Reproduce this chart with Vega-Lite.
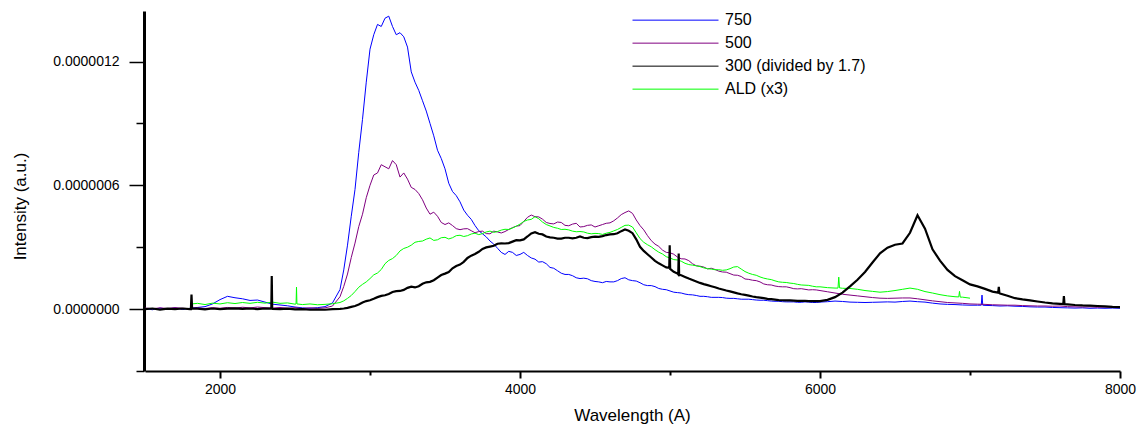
{
"$schema": "https://vega.github.io/schema/vega-lite/v6.json",
"width": 975, "height": 360,
"autosize": {"type": "none"},
"padding": {"left": 145, "top": 11, "right": 19, "bottom": 58},
"background": "white",
"config": {"view": {"stroke": null}, "font": "Liberation Sans"},
"data": {"values": [
{"w":1500,"b":0.2e-8,"p":0.5e-8,"k":0},
{"w":1550,"b":-0.3e-8,"p":0.2e-8,"k":0.3e-8},
{"w":1600,"b":0.5e-8,"p":0.6e-8,"k":-0.2e-8},
{"w":1650,"b":0,"p":0.3e-8,"k":0.2e-8},
{"w":1700,"b":0.6e-8,"p":0.7e-8,"k":0},
{"w":1750,"b":-0.2e-8,"p":0.4e-8,"k":0.3e-8},
{"w":1800,"b":0.4e-8,"p":0.2e-8,"k":0,"g":2.4e-8},
{"w":1806,"k":0},
{"w":1810,"k":7e-8},
{"w":1814,"k":0.2e-8},
{"w":1850,"b":0.8e-8,"p":0.6e-8,"k":0.2e-8,"g":2.8e-8},
{"w":1900,"b":1.2e-8,"p":0.3e-8,"k":-0.1e-8,"g":2.2e-8},
{"w":1950,"b":2.5e-8,"p":0.7e-8,"k":0.3e-8,"g":2.9e-8},
{"w":2000,"b":4.6e-8,"p":0.4e-8,"k":0,"g":2.5e-8},
{"w":2050,"b":6.2e-8,"p":0.8e-8,"k":0.2e-8,"g":3.1e-8},
{"w":2100,"b":5.5e-8,"p":0.5e-8,"k":0.4e-8,"g":2.7e-8},
{"w":2150,"b":5.0e-8,"p":0.9e-8,"k":0.1e-8,"g":3.2e-8},
{"w":2200,"b":4.2e-8,"p":0.6e-8,"k":0.3e-8,"g":2.8e-8},
{"w":2250,"b":4.4e-8,"p":1.0e-8,"k":0,"g":3.3e-8},
{"w":2300,"b":3.4e-8,"p":0.7e-8,"k":0.3e-8,"g":2.9e-8},
{"w":2342,"k":0.2e-8},
{"w":2345,"k":16e-8},
{"w":2348,"k":0.2e-8},
{"w":2350,"b":2.4e-8,"p":0.5e-8,"k":0.1e-8,"g":3.4e-8},
{"w":2400,"b":2.0e-8,"p":0.8e-8,"k":0,"g":2.8e-8},
{"w":2450,"b":1.6e-8,"p":0.4e-8,"k":0.2e-8,"g":3.0e-8},
{"w":2500,"b":1.0e-8,"p":0.7e-8,"k":-0.1e-8,"g":2.4e-8},
{"w":2507,"g":2.5e-8},
{"w":2510,"g":10.7e-8},
{"w":2513,"g":2.5e-8},
{"w":2550,"b":0.6e-8,"p":0.3e-8,"k":0,"g":2.2e-8},
{"w":2600,"b":0.4e-8,"p":0.6e-8,"k":-0.3e-8,"g":2.5e-8},
{"w":2650,"b":0.7e-8,"p":0.4e-8,"k":-0.2e-8,"g":2.1e-8},
{"w":2700,"b":1.2e-8,"p":0.6e-8,"k":-0.3e-8,"g":2.3e-8},
{"w":2750,"b":3.0e-8,"p":1.5e-8,"k":0,"g":2.6e-8},
{"w":2800,"b":9.5e-8,"p":6e-8,"k":0.1e-8,"g":3.2e-8},
{"w":2825,"b":19e-8,"p":11e-8,"k":0.3e-8,"g":4.0e-8},
{"w":2850,"b":31e-8,"p":17e-8,"k":0.6e-8,"g":5.2e-8},
{"w":2875,"b":45e-8,"p":25e-8,"k":1.1e-8,"g":6.6e-8},
{"w":2900,"b":58e-8,"p":32e-8,"k":1.5e-8,"g":8.5e-8},
{"w":2925,"b":76e-8,"p":40e-8,"k":2.2e-8,"g":10.6e-8},
{"w":2950,"b":92e-8,"p":46e-8,"k":3.2e-8,"g":12e-8},
{"w":2975,"b":110e-8,"p":54e-8,"k":3.9e-8,"g":13.2e-8},
{"w":3000,"b":126e-8,"p":60e-8,"k":4.3e-8,"g":14.8e-8},
{"w":3025,"b":133e-8,"p":65e-8,"k":5.0e-8,"g":16.6e-8},
{"w":3050,"b":138e-8,"p":66e-8,"k":5.8e-8,"g":17.5e-8},
{"w":3075,"b":137e-8,"p":70e-8,"k":6.4e-8,"g":19.2e-8},
{"w":3100,"b":141e-8,"p":69e-8,"k":6.7e-8,"g":22e-8},
{"w":3125,"b":142e-8,"p":68e-8,"k":7.3e-8,"g":23.6e-8},
{"w":3150,"b":137e-8,"p":72e-8,"k":8.3e-8,"g":24.5e-8},
{"w":3175,"b":133e-8,"p":70e-8,"k":8.7e-8,"g":26.0e-8},
{"w":3200,"b":134e-8,"p":64e-8,"k":8.8e-8,"g":28.2e-8},
{"w":3225,"b":132e-8,"p":66e-8,"k":9.3e-8,"g":29.4e-8},
{"w":3250,"b":127e-8,"p":63e-8,"k":10.3e-8,"g":30e-8},
{"w":3275,"b":115e-8,"p":59e-8,"k":10.9e-8,"g":31.0e-8},
{"w":3300,"b":110e-8,"p":58e-8,"k":10.5e-8,"g":32.4e-8},
{"w":3325,"b":106e-8,"p":56e-8,"k":11.1e-8,"g":32.8e-8},
{"w":3350,"b":101e-8,"p":53e-8,"k":12.3e-8,"g":33e-8},
{"w":3375,"b":96e-8,"p":49e-8,"k":13.0e-8,"g":33.9e-8},
{"w":3400,"b":90e-8,"p":46e-8,"k":13.2e-8,"g":34.5e-8},
{"w":3425,"b":84e-8,"p":47e-8,"k":14.0e-8,"g":33.3e-8},
{"w":3450,"b":77e-8,"p":45e-8,"k":15.3e-8,"g":33.6e-8},
{"w":3475,"b":73e-8,"p":42e-8,"k":16.5e-8,"g":34.6e-8},
{"w":3500,"b":68e-8,"p":41e-8,"k":17.2e-8,"g":34.8e-8},
{"w":3525,"b":61e-8,"p":41.8e-8,"k":18.0e-8,"g":34.0e-8},
{"w":3550,"b":57e-8,"p":40.5e-8,"k":19.8e-8,"g":34.6e-8},
{"w":3575,"b":55e-8,"p":39e-8,"k":20.9e-8,"g":35.6e-8},
{"w":3600,"b":52e-8,"p":38.5e-8,"k":21.6e-8,"g":35.8e-8},
{"w":3625,"b":48e-8,"p":38.9e-8,"k":22.9e-8,"g":35.2e-8},
{"w":3650,"b":45.5e-8,"p":39e-8,"k":24.8e-8,"g":35.6e-8},
{"w":3675,"b":43.5e-8,"p":38e-8,"k":25.9e-8,"g":36.4e-8},
{"w":3700,"b":40.5e-8,"p":37e-8,"k":26.7e-8,"g":36.8e-8},
{"w":3725,"b":38e-8,"p":37.6e-8,"k":27.8e-8,"g":36.1e-8},
{"w":3750,"b":36.5e-8,"p":37.8e-8,"k":29.2e-8,"g":36.6e-8},
{"w":3775,"b":35e-8,"p":36.6e-8,"k":29.9e-8,"g":37.4e-8},
{"w":3800,"b":33e-8,"p":36.5e-8,"k":30.3e-8,"g":37.8e-8},
{"w":3825,"b":31.5e-8,"p":37.8e-8,"k":30.7e-8,"g":37.2e-8},
{"w":3850,"b":29.5e-8,"p":37.4e-8,"k":31.7e-8,"g":37.6e-8},
{"w":3875,"b":27.5e-8,"p":36.9e-8,"k":31.9e-8,"g":38.3e-8},
{"w":3900,"b":26.5e-8,"p":37.6e-8,"k":31.8e-8,"g":38.7e-8},
{"w":3925,"b":28e-8,"p":38.6e-8,"k":32.0e-8,"g":38.6e-8},
{"w":3950,"b":27.5e-8,"p":39.5e-8,"k":32.7e-8,"g":39.3e-8},
{"w":3975,"b":26e-8,"p":40.2e-8,"k":33.4e-8,"g":40.2e-8},
{"w":4000,"b":26.5e-8,"p":40.5e-8,"k":33.3e-8,"g":41.2e-8},
{"w":4025,"b":27.5e-8,"p":42.5e-8,"k":33.8e-8,"g":42.5e-8},
{"w":4050,"b":26e-8,"p":44.5e-8,"k":35.2e-8,"g":43.2e-8},
{"w":4075,"b":24.8e-8,"p":45.6e-8,"k":36.7e-8,"g":43.5e-8},
{"w":4100,"b":24.2e-8,"p":44.8e-8,"k":37.3e-8,"g":44.8e-8},
{"w":4125,"b":22.8e-8,"p":44.7e-8,"k":36.5e-8,"g":43.8e-8},
{"w":4150,"b":23e-8,"p":43.6e-8,"k":36.2e-8,"g":42.2e-8},
{"w":4175,"b":22e-8,"p":42e-8,"k":35.2e-8,"g":41.0e-8},
{"w":4200,"b":20.2e-8,"p":41.5e-8,"k":34.8e-8,"g":40.3e-8},
{"w":4225,"b":19.8e-8,"p":41.3e-8,"k":34.6e-8,"g":39.6e-8},
{"w":4250,"b":18.6e-8,"p":42.2e-8,"k":34.2e-8,"g":39.2e-8},
{"w":4275,"b":17.4e-8,"p":42.0e-8,"k":34.2e-8,"g":38.6e-8},
{"w":4300,"b":16.8e-8,"p":40.6e-8,"k":34.6e-8,"g":38.7e-8},
{"w":4325,"b":16.8e-8,"p":40.4e-8,"k":34.6e-8,"g":38.4e-8},
{"w":4350,"b":16.2e-8,"p":41.2e-8,"k":34.3e-8,"g":37.8e-8},
{"w":4375,"b":15.2e-8,"p":41.6e-8,"k":34.6e-8,"g":37.5e-8},
{"w":4400,"b":14.8e-8,"p":39.8e-8,"k":35.2e-8,"g":37.6e-8},
{"w":4425,"b":15.0e-8,"p":40.0e-8,"k":34.6e-8,"g":37.4e-8},
{"w":4450,"b":14.7e-8,"p":40.6e-8,"k":34.4e-8,"g":36.8e-8},
{"w":4475,"b":13.8e-8,"p":40.8e-8,"k":34.9e-8,"g":36.5e-8},
{"w":4500,"b":13.4e-8,"p":39.8e-8,"k":35.1e-8,"g":36.7e-8},
{"w":4525,"b":13.2e-8,"p":40.4e-8,"k":35.0e-8,"g":36.6e-8},
{"w":4550,"b":12.8e-8,"p":41e-8,"k":35.4e-8,"g":36.2e-8},
{"w":4575,"b":13.4e-8,"p":41.6e-8,"k":35.9e-8,"g":36.8e-8},
{"w":4600,"b":13.2e-8,"p":41.8e-8,"k":36.2e-8,"g":37.2e-8},
{"w":4625,"b":13.2e-8,"p":42.8e-8,"k":36.3e-8,"g":37.9e-8},
{"w":4650,"b":13.8e-8,"p":44.2e-8,"k":36.8e-8,"g":38.6e-8},
{"w":4675,"b":14.8e-8,"p":45.8e-8,"k":37.8e-8,"g":39.6e-8},
{"w":4700,"b":15.2e-8,"p":46.8e-8,"k":38.6e-8,"g":40.6e-8},
{"w":4725,"b":14.2e-8,"p":47.6e-8,"k":38.0e-8,"g":40.7e-8},
{"w":4750,"b":13.8e-8,"p":46.4e-8,"k":36.8e-8,"g":39.8e-8},
{"w":4775,"b":13.6e-8,"p":43.2e-8,"k":33.8e-8,"g":37.0e-8},
{"w":4800,"b":12.8e-8,"p":40.5e-8,"k":30.2e-8,"g":34.2e-8},
{"w":4825,"b":11.8e-8,"p":38.4e-8,"k":28.2e-8,"g":32.4e-8},
{"w":4850,"b":11.4e-8,"p":35.6e-8,"k":26.6e-8,"g":31.2e-8},
{"w":4875,"b":11.4e-8,"p":33.2e-8,"k":25.0e-8,"g":30.2e-8},
{"w":4900,"b":10.9e-8,"p":31.5e-8,"k":23.4e-8,"g":28.8e-8},
{"w":4925,"b":10.0e-8,"p":30.4e-8,"k":22.2e-8,"g":27.6e-8},
{"w":4950,"b":9.6e-8,"p":28.6e-8,"k":21.2e-8,"g":26.7e-8},
{"w":4975,"b":9.4e-8,"p":27.5e-8,"k":20.2e-8,"g":25.4e-8},
{"w":4995,"k":20e-8},
{"w":4998,"k":31e-8},
{"w":5001,"k":19.5e-8},
{"w":5000,"b":8.8e-8,"p":27.3e-8,"g":24.8e-8},
{"w":5025,"b":8.2e-8,"p":26.6e-8,"k":18.1e-8,"g":24.0e-8},
{"w":5050,"b":8.0e-8,"p":25.2e-8,"k":17.2e-8,"g":23.8e-8},
{"w":5055,"k":16.8e-8},
{"w":5058,"k":27e-8},
{"w":5061,"k":16.6e-8},
{"w":5075,"b":7.8e-8,"p":24.4e-8,"k":16.4e-8,"g":23.2e-8},
{"w":5100,"b":7.3e-8,"p":24.3e-8,"k":15.6e-8,"g":22.2e-8},
{"w":5125,"b":7.0e-8,"p":23.5e-8,"k":14.8e-8,"g":21.6e-8},
{"w":5150,"b":6.9e-8,"p":22e-8,"k":14.1e-8,"g":21.3e-8},
{"w":5175,"b":6.6e-8,"p":21.0e-8,"k":13.4e-8,"g":21.0e-8},
{"w":5200,"b":6.2e-8,"p":20.8e-8,"k":12.7e-8,"g":20.6e-8},
{"w":5225,"b":6.2e-8,"p":20.4e-8,"k":12.1e-8,"g":20.0e-8},
{"w":5250,"b":6.0e-8,"p":19.5e-8,"k":11.6e-8,"g":19.6e-8},
{"w":5275,"b":5.7e-8,"p":19.8e-8,"k":11.1e-8,"g":19.4e-8},
{"w":5300,"b":5.7e-8,"p":19.2e-8,"k":10.6e-8,"g":19.1e-8},
{"w":5325,"b":5.7e-8,"p":18.4e-8,"k":10.0e-8,"g":19.1e-8},
{"w":5350,"b":5.6e-8,"p":18.0e-8,"k":9.5e-8,"g":18.8e-8},
{"w":5375,"b":5.3e-8,"p":17.9e-8,"k":9.0e-8,"g":19.0e-8},
{"w":5400,"b":5.2e-8,"p":17.2e-8,"k":8.6e-8,"g":19.6e-8},
{"w":5425,"b":5.2e-8,"p":16.5e-8,"k":8.1e-8,"g":20.4e-8},
{"w":5450,"b":5.0e-8,"p":16.4e-8,"k":7.6e-8,"g":20.6e-8},
{"w":5475,"b":4.8e-8,"p":15.8e-8,"k":7.2e-8,"g":19.4e-8},
{"w":5500,"b":4.8e-8,"p":14.6e-8,"k":6.9e-8,"g":18.2e-8},
{"w":5525,"b":4.8e-8,"p":14.4e-8,"k":6.5e-8,"g":17.4e-8},
{"w":5550,"b":4.6e-8,"p":14.0e-8,"k":6.1e-8,"g":16.8e-8},
{"w":5575,"b":4.4e-8,"p":13.8e-8,"k":5.8e-8,"g":16.4e-8},
{"w":5600,"b":4.3e-8,"p":13.2e-8,"k":5.6e-8,"g":15.6e-8},
{"w":5625,"b":4.3e-8,"p":12.2e-8,"k":5.3e-8,"g":15.0e-8},
{"w":5650,"b":4.1e-8,"p":11.8e-8,"k":5.0e-8,"g":14.6e-8},
{"w":5675,"b":3.9e-8,"p":11.7e-8,"k":4.8e-8,"g":14.3e-8},
{"w":5700,"b":3.8e-8,"p":11.2e-8,"k":4.6e-8,"g":13.7e-8},
{"w":5725,"b":3.8e-8,"p":10.9e-8,"k":4.4e-8,"g":13.2e-8},
{"w":5750,"b":3.6e-8,"p":10.8e-8,"k":4.3e-8,"g":13.0e-8},
{"w":5775,"b":3.5e-8,"p":10.8e-8,"k":4.2e-8,"g":12.9e-8},
{"w":5800,"b":3.5e-8,"p":10.4e-8,"k":4.2e-8,"g":12.6e-8},
{"w":5825,"b":3.5e-8,"p":9.9e-8,"k":4.1e-8,"g":12.4e-8},
{"w":5850,"b":3.3e-8,"p":9.8e-8,"k":4.0e-8,"g":12.0e-8},
{"w":5875,"b":3.3e-8,"p":9.9e-8,"k":4.0e-8,"g":11.7e-8},
{"w":5900,"b":3.5e-8,"p":9.6e-8,"k":4.0e-8,"g":11.6e-8},
{"w":5925,"b":3.4e-8,"p":9.3e-8,"k":3.9e-8,"g":11.5e-8},
{"w":5950,"b":3.2e-8,"p":9.4e-8,"k":3.9e-8,"g":11.1e-8},
{"w":5975,"b":3.2e-8,"p":9.3e-8,"k":3.9e-8,"g":10.8e-8},
{"w":6000,"b":3.4e-8,"p":9.0e-8,"k":3.9e-8,"g":10.8e-8},
{"w":6050,"b":3.6e-8,"p":8.4e-8,"k":4.5e-8,"g":10.4e-8},
{"w":6100,"b":3.9e-8,"p":7.8e-8,"k":5.8e-8,"g":10.2e-8},
{"w":6120,"g":10.2e-8},
{"w":6125,"g":15.5e-8},
{"w":6130,"g":10.3e-8},
{"w":6150,"b":3.7e-8,"p":7.2e-8,"k":8.0e-8,"g":10.1e-8},
{"w":6200,"b":3.4e-8,"p":6.8e-8,"k":11.0e-8,"g":10.0e-8},
{"w":6250,"b":3.3e-8,"p":6.4e-8,"k":14.2e-8,"g":9.6e-8},
{"w":6300,"b":3.2e-8,"p":6.0e-8,"k":18.0e-8,"g":9.0e-8},
{"w":6350,"b":3.3e-8,"p":5.6e-8,"k":22.6e-8,"g":8.6e-8},
{"w":6400,"b":3.4e-8,"p":5.3e-8,"k":27.0e-8,"g":8.2e-8},
{"w":6450,"b":3.5e-8,"p":5.2e-8,"k":29.8e-8,"g":8.5e-8},
{"w":6500,"b":3.4e-8,"p":5.3e-8,"k":31.2e-8,"g":9.0e-8},
{"w":6550,"b":3.7e-8,"p":5.4e-8,"k":31.8e-8,"g":9.6e-8},
{"w":6600,"b":3.9e-8,"p":5.4e-8,"k":37.0e-8,"g":10.2e-8},
{"w":6650,"b":3.6e-8,"p":5.0e-8,"k":45.5e-8,"g":9.6e-8},
{"w":6700,"b":3.4e-8,"p":4.5e-8,"k":39.0e-8,"g":8.5e-8},
{"w":6750,"b":2.9e-8,"p":4.0e-8,"k":29.0e-8,"g":7.8e-8},
{"w":6800,"b":2.5e-8,"p":3.6e-8,"k":23.5e-8,"g":7.0e-8},
{"w":6850,"b":2.3e-8,"p":3.2e-8,"k":19.0e-8,"g":6.4e-8},
{"w":6900,"b":2.2e-8,"p":3.0e-8,"k":16.0e-8,"g":6.0e-8},
{"w":6925,"g":5.9e-8},
{"w":6930,"g":8.6e-8},
{"w":6935,"g":5.8e-8},
{"w":6950,"b":2.0e-8,"p":2.8e-8,"k":14.0e-8,"g":5.8e-8},
{"w":7000,"b":1.9e-8,"p":2.5e-8,"k":12.0e-8,"g":5.3e-8},
{"w":7050,"b":1.9e-8,"p":2.4e-8,"k":11.0e-8},
{"w":7075,"b":1.9e-8},
{"w":7080,"b":6.8e-8},
{"w":7085,"b":1.9e-8},
{"w":7100,"b":1.8e-8,"p":2.3e-8,"k":9.8e-8},
{"w":7150,"b":1.7e-8,"p":2.1e-8,"k":8.5e-8},
{"w":7188,"k":8.0e-8},
{"w":7192,"k":10.8e-8},
{"w":7196,"k":7.8e-8},
{"w":7200,"b":1.5e-8,"p":2.0e-8,"k":7.6e-8},
{"w":7250,"b":1.6e-8,"p":1.9e-8,"k":6.5e-8},
{"w":7300,"b":1.4e-8,"p":1.9e-8,"k":5.3e-8},
{"w":7350,"b":1.3e-8,"p":1.7e-8,"k":4.7e-8},
{"w":7400,"b":1.1e-8,"p":1.6e-8,"k":4.2e-8},
{"w":7450,"b":1.0e-8,"p":1.5e-8,"k":3.7e-8},
{"w":7500,"b":1.0e-8,"p":1.5e-8,"k":3.2e-8},
{"w":7550,"b":0.8e-8,"p":1.4e-8,"k":2.8e-8},
{"w":7600,"b":0.7e-8,"p":1.5e-8,"k":2.5e-8},
{"w":7622,"k":2.4e-8},
{"w":7626,"k":6.3e-8},
{"w":7630,"k":2.4e-8},
{"w":7650,"b":0.6e-8,"p":1.2e-8,"k":2.3e-8},
{"w":7700,"b":0.5e-8,"p":1.1e-8,"k":2.0e-8},
{"w":7750,"b":0.6e-8,"p":1.0e-8,"k":1.8e-8},
{"w":7800,"b":0.4e-8,"p":1.1e-8,"k":1.7e-8},
{"w":7850,"b":0.5e-8,"p":0.9e-8,"k":1.5e-8},
{"w":7900,"b":0.4e-8,"p":1.0e-8,"k":1.3e-8},
{"w":7950,"b":0.5e-8,"p":0.9e-8,"k":1.1e-8},
{"w":8000,"b":0.4e-8,"p":1.0e-8,"k":1.0e-8}
]},
"transform": [
  {"fold": ["b", "p", "k", "g"], "as": ["s", "v"]},
  {"filter": "isValid(datum.v)"}
],
"encoding": {
  "x": {"field": "w", "type": "quantitative",
    "scale": {"domain": [1500, 8000], "nice": false, "zero": false},
    "axis": {"title": "Wavelength (A)", "values": [2000, 3000, 4000, 5000, 6000, 7000, 8000], "format": "d",
      "labelExpr": "datum.value % 2000 === 0 ? datum.label : ''",
      "grid": false, "domainColor": "#000000", "domainWidth": 2, "tickColor": "#000000", "tickWidth": 2,
      "tickSize": {"condition": {"test": "datum.value % 2000 === 0", "value": 7}, "value": 4},
      "labelFontSize": 14, "labelColor": "#000000", "labelPadding": 4, "labelFlush": false, "labelOverlap": false,
      "titleFontSize": 17, "titleFontWeight": "normal", "titleColor": "#000000",
      "titleBaseline": "alphabetic", "titleX": 487, "titleY": 49}},
  "y": {"field": "v", "type": "quantitative",
    "scale": {"domain": [-3e-7, 1.445e-6], "nice": false, "zero": false},
    "axis": {"title": "Intensity (a.u.)", "values": [-3e-7, 0, 3e-7, 6e-7, 9e-7, 1.2e-6],
      "labelExpr": "round(datum.value*1e7) % 6 === 0 ? format(datum.value, '.7f') : ''",
      "grid": false, "domainColor": "#000000", "domainWidth": 3, "tickColor": "#000000", "tickWidth": 1.5,
      "tickSize": {"condition": {"test": "round(datum.value*1e7) % 6 === 0", "value": 15}, "value": 8},
      "labelFontSize": 14, "labelColor": "#000000", "labelPadding": 10, "labelFlush": false, "labelOverlap": false,
      "titleFontSize": 17, "titleFontWeight": "normal", "titleColor": "#000000",
      "titleAngle": -90, "titleBaseline": "alphabetic", "titleAlign": "center", "titleX": -119, "titleY": 195, "offset": 1}},
  "color": {"field": "s", "type": "nominal",
    "scale": {"domain": ["b", "p", "k", "g"], "range": ["#0000ff", "#800080", "#000000", "#00ff00"]},
    "legend": {"title": null, "orient": "none", "legendX": 487, "legendY": -2, "direction": "vertical",
      "symbolType": "stroke", "symbolSize": 7396, "symbolStrokeWidth": 1, "clipHeight": 22.3, "rowPadding": 0,
      "labelFontSize": 16, "labelColor": "#000000", "labelOffset": 6, "padding": 0, "offset": 0,
      "labelExpr": "datum.value == 'b' ? '750' : datum.value == 'p' ? '500' : datum.value == 'k' ? '300 (divided by 1.7)' : 'ALD (x3)'"}}
},
"layer": [
  {"transform": [{"filter": "datum.s != 'k'"}], "mark": {"type": "line", "invalid": "filter", "clip": true, "strokeWidth": 1}},
  {"transform": [{"filter": "datum.s == 'k'"}], "mark": {"type": "line", "invalid": "filter", "clip": true, "strokeWidth": 2.2}}
]
}
